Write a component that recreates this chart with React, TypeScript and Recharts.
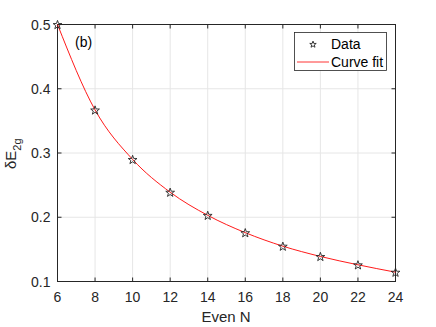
import React from 'react';
import {
  ComposedChart,
  Line,
  Scatter,
  XAxis,
  YAxis,
  CartesianGrid,
  Legend,
  Customized,
} from 'recharts';

const evenN = [6, 8, 10, 12, 14, 16, 18, 20, 22, 24];
const deltaE2g = [0.5, 0.367, 0.29, 0.239, 0.203, 0.176, 0.155, 0.139, 0.126, 0.1145];
const curveFit = [0.5, 0.367, 0.29, 0.239, 0.203, 0.176, 0.155, 0.139, 0.126, 0.1145];
const xTicks = [6, 8, 10, 12, 14, 16, 18, 20, 22, 24];
const yTicks = [0.1, 0.2, 0.3, 0.4, 0.5];
const xInner = [8, 10, 12, 14, 16, 18, 20, 22];
const yInner = [0.2, 0.3, 0.4];
const xDomain = [6, 24];
const yDomain = [0.1, 0.5];

const data = evenN.map((n, i) => ({ n, d: deltaE2g[i], fit: curveFit[i] }));

const AX = '#262626';
const GRID = '#e6e6e6';
const FONT = '"Liberation Sans", Arial, Helvetica, sans-serif';
const TL = 4;

const W = 436;
const H = 327;
const M = { top: 24.5, right: 40.5, left: 0.5 };
const XAXIS_H = 45.5;
const YAXIS_W = 57;
const PL = M.left + YAXIS_W;
const PT = M.top;
const PW = W - M.right - PL;
const PH = H - XAXIS_H - PT;

const starPoints = (cx: number, cy: number, r: number) => {
  const pts: string[] = [];
  const ri = r * 0.4;
  for (let k = 0; k < 10; k++) {
    const rr = k % 2 === 0 ? r : ri;
    const a = -Math.PI / 2 + (k * Math.PI) / 5;
    pts.push(`${cx + rr * Math.cos(a)},${cy + rr * Math.sin(a)}`);
  }
  return pts.join(' ');
};

const StarShape = (props: any) => {
  const { cx, cy } = props;
  if (cx == null || cy == null) return <g />;
  return <polygon points={starPoints(cx, cy + 0.5, 4.6)} fill="none" stroke={AX} strokeWidth={0.9} />;
};

const BottomTick = (props: any) => {
  const { x, y, payload } = props;
  return (
    <text x={x} y={y + 20} textAnchor="middle" fontSize={14} fontFamily={FONT} fill={AX}>
      {payload.value}
    </text>
  );
};

const LeftTick = (props: any) => {
  const { x, y, payload } = props;
  return (
    <text x={x - 7} y={y + 5} textAnchor="end" fontSize={14} fontFamily={FONT} fill={AX}>
      {payload.value}
    </text>
  );
};

const Frame = () => {
  const sx = (v: number) => PL + ((v - xDomain[0]) / (xDomain[1] - xDomain[0])) * PW;
  const sy = (v: number) => PT + PH - ((v - yDomain[0]) / (yDomain[1] - yDomain[0])) * PH;
  return (
    <g>
      <rect x={PL} y={PT} width={PW} height={PH} fill="none" stroke={AX} strokeWidth={1} />
      {xTicks.map((v) => (
        <g key={`x${v}`}>
          <line x1={sx(v)} x2={sx(v)} y1={PT + PH} y2={PT + PH - TL} stroke={AX} strokeWidth={1} />
          <line x1={sx(v)} x2={sx(v)} y1={PT} y2={PT + TL} stroke={AX} strokeWidth={1} />
        </g>
      ))}
      {yTicks.map((v) => (
        <g key={`y${v}`}>
          <line x1={PL} x2={PL + TL} y1={sy(v)} y2={sy(v)} stroke={AX} strokeWidth={1} />
          <line x1={PL + PW} x2={PL + PW - TL} y1={sy(v)} y2={sy(v)} stroke={AX} strokeWidth={1} />
        </g>
      ))}
      <text x={75} y={47} fontSize={14} fontFamily={FONT} fill="#000">
        (b)
      </text>
      <text x={226} y={322} textAnchor="middle" fontSize={15} fontFamily={FONT} fill={AX}>
        Even N
      </text>
    </g>
  );
};

const LegendBox = () => (
  <svg width={94} height={40} style={{ display: 'block' }}>
    <rect x={0.5} y={0.5} width={92} height={38} fill="#fff" stroke={AX} strokeWidth={0.8} />
    <polygon points={starPoints(19, 12.5, 3.4)} fill="none" stroke={AX} strokeWidth={0.9} />
    <text x={37} y={17} fontSize={14} fontFamily={FONT} fill="#000">
      Data
    </text>
    <line x1={3} x2={35} y1={30} y2={30} stroke="#ff0000" strokeWidth={0.8} />
    <text x={37} y={35} fontSize={14} fontFamily={FONT} fill="#000">
      Curve fit
    </text>
  </svg>
);

const YLabel = () => (
  <text transform="translate(15.5,169) rotate(-90)" fontSize={15} fontFamily={FONT} fill={AX}>
    <tspan>δE</tspan>
    <tspan fontSize={11} dy={5}>
      2g
    </tspan>
  </text>
);

export default function App() {
  return (
    <div style={{ position: 'absolute', left: 0, top: 0, background: '#fff' }}>
      <ComposedChart width={W} height={H} data={data} margin={{ top: M.top, right: M.right, bottom: 0, left: M.left }}>
        <CartesianGrid stroke={GRID} strokeWidth={1} horizontalValues={yInner} verticalValues={xInner} />
        <XAxis
          dataKey="n"
          type="number"
          domain={xDomain}
          ticks={xTicks}
          height={XAXIS_H}
          axisLine={false}
          tickSize={0}
          tickMargin={0}
          tickLine={false}
          tick={<BottomTick />}
          interval={0}
        />
        <YAxis
          type="number"
          domain={yDomain}
          ticks={yTicks}
          width={YAXIS_W}
          axisLine={false}
          tickSize={0}
          tickMargin={0}
          tickLine={false}
          tick={<LeftTick />}
          interval={0}
          label={{ content: <YLabel /> }}
        />
        <Line
          dataKey="fit"
          type="monotone"
          stroke="#ff0000"
          strokeWidth={0.9}
          dot={false}
          activeDot={false}
          isAnimationActive={false}
          name="Curve fit"
        />
        <Scatter dataKey="d" shape={<StarShape />} isAnimationActive={false} name="Data" />
        <Legend
          layout="horizontal"
          verticalAlign="middle"
          align="center"
          content={<LegendBox />}
          wrapperStyle={{ left: 294, top: 32, width: 94, height: 40 }}
        />
        <Customized component={<Frame />} />
      </ComposedChart>
    </div>
  );
}
